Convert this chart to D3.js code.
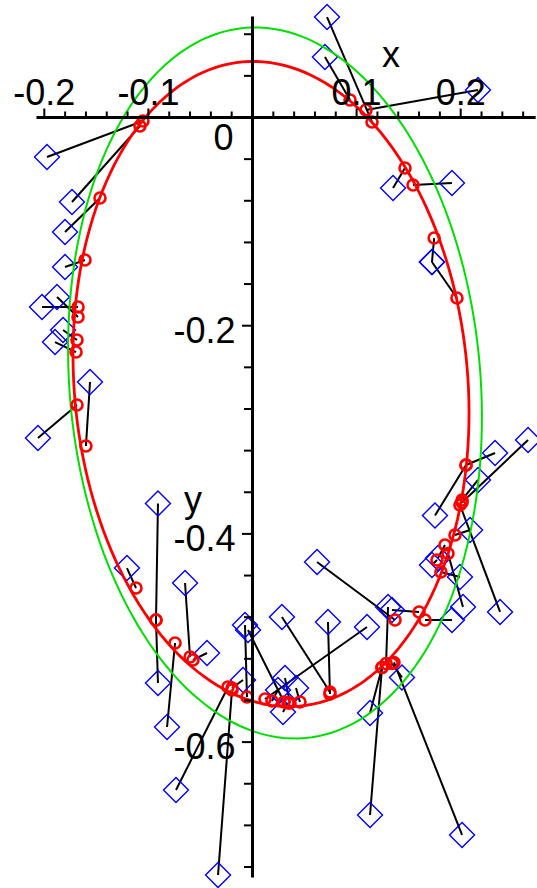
<!DOCTYPE html>
<html>
<head>
<meta charset="utf-8">
<script src="https://cdn.jsdelivr.net/npm/d3@7"></script>
<style>
  html, body { margin: 0; padding: 0; background: #ffffff; }
  svg { display: block; }
  text { font-family: "Liberation Sans", Arial, sans-serif; }
</style>
</head>
<body>
<svg id="chart" width="537" height="888"></svg>
<script>
// Measured points (blue diamonds)
const obsX = [0.0716, 0.0696, 0.2166, -0.1974, -0.1734, 0.1916, 0.1350, -0.1801, 0.1724, -0.1801,
  -0.2022, -0.1878, -0.1820, -0.1897, -0.1561, -0.2061, -0.1206, -0.0908, -0.0908, -0.0648,
  -0.0437, -0.0821, -0.0735, -0.0331, -0.0072, -0.0043, 0.0283, 0.0620, 0.0725, 0.0312,
  0.0418, 0.1100, 0.1340, 0.1302, 0.1436, 0.1129, 0.2013, 0.1916, 0.2022, 0.2378,
  0.1993, 0.1724, 0.1782, 0.2090, 0.1753, 0.2166, 0.2330, 0.2647, -0.0091, 0.0245,
  0.0293, 0.1129, 0.1724];
const obsY = [0.0965, 0.0581, 0.0264, -0.0379, -0.0812, -0.0629, -0.0677, -0.1100, -0.1388, -0.1436,
  -0.1820, -0.1724, -0.2041, -0.2157, -0.2541, -0.3079, -0.4328, -0.3708, -0.5432, -0.4472,
  -0.5144, -0.5855, -0.6460, -0.7277, -0.4875, -0.4923, -0.4798, -0.4270, -0.4846, -0.5384,
  -0.5480, -0.4894, -0.4731, -0.4702, -0.5379, -0.6700, -0.6892, -0.4827, -0.4702, -0.4750,
  -0.4414, -0.4299, -0.4232, -0.3963, -0.3823, -0.3482, -0.3223, -0.3098, -0.5403, -0.5500,
  -0.5711, -0.5720, -0.1388];

// Matching points on the fitted ellipse (red circles)
const footX = [0.1148, 0.0937, 0.1090, -0.1052, -0.1081, 0.1542, 0.1465, -0.1465, 0.1964, -0.1609,
  -0.1676, -0.1676, -0.1686, -0.1695, -0.1600, -0.1686, -0.1119, -0.0927, -0.0927, -0.0600,
  -0.0572, -0.0744, -0.0235, -0.0197, -0.0053, 0.0303, 0.0744, 0.1369, 0.0744, 0.0360,
  0.0456, 0.0120, 0.1600, 0.1283, 0.1340, 0.1244, 0.1359, 0.1657, 0.1878, 0.1993,
  0.1810, 0.1772, 0.1849, 0.1945, 0.2051, 0.2013, 0.2051, 0.2013, -0.0197, 0.0187,
  0.0341, 0.1244, 0.1745];
const footY = [-0.0043, 0.0168, 0.0072, -0.0034, -0.0082, -0.0648, -0.0485, -0.0773, -0.1734, -0.1369,
  -0.1820, -0.1916, -0.2137, -0.2253, -0.3156, -0.2762, -0.4520, -0.4827, -0.4827, -0.5183,
  -0.5211, -0.5048, -0.5470, -0.5500, -0.5567, -0.5615, -0.5519, -0.4827, -0.5538, -0.5625,
  -0.5615, -0.5586, -0.4750, -0.5245, -0.5245, -0.5283, -0.5235, -0.4827, -0.4188, -0.3722,
  -0.4366, -0.4251, -0.4107, -0.4011, -0.3338, -0.3674, -0.3338, -0.3698, -0.5480, -0.5605,
  -0.5625, -0.5283, -0.1158];

// Ellipses: reference (green) and fitted (red)
const ellipseCx   = [0.0216, 0.0178];
const ellipseCy   = [-0.2550, -0.2560];
const ellipseA    = [0.3423, 0.3106];   // semi-axis along the tilted vertical
const ellipseB    = [0.1974, 0.1890];
const ellipseTilt = [4.8, 5.0];         // degrees, clockwise from vertical
const ellipseColor = ["#00e000", "#ff0000"];

// Axes
const xTickValues = [-0.2, -0.18, -0.16, -0.14, -0.12, -0.1, -0.08, -0.06, -0.04, -0.02,
  0.02, 0.04, 0.06, 0.08, 0.1, 0.12, 0.14, 0.16, 0.18, 0.2, 0.22, 0.24, 0.26];
const xLabelValues = [-0.2, -0.1, 0.1, 0.2];
const xLabelText = ["-0.2", "-0.1", "0.1", "0.2"];
const yTickValues = [0.08, 0.04, -0.04, -0.08, -0.12, -0.16, -0.2, -0.24, -0.28, -0.32,
  -0.36, -0.4, -0.44, -0.48, -0.52, -0.56, -0.6, -0.64, -0.68, -0.72];
const yLabelValues = [-0.2, -0.4, -0.6];
const yLabelText = ["-0.2", "-0.4", "-0.6"];
const xAxisExtent = [-0.2075, 0.2720];
const yAxisExtent = [0.0970, -0.7300];

const svg = d3.select("#chart");
const x = d3.scaleLinear().domain([0, 0.2]).range([252.5, 460.7]);
const y = d3.scaleLinear().domain([0, -0.6]).range([117.5, 742.1]);

// Connectors from each point to its match on the fitted curve
svg.append("g")
  .selectAll("line")
  .data(d3.range(obsX.length))
  .join("line")
  .attr("x1", i => x(obsX[i])).attr("y1", i => y(obsY[i]))
  .attr("x2", i => x(footX[i])).attr("y2", i => y(footY[i]))
  .attr("stroke", "#000").attr("stroke-width", 2);

// Blue diamonds
const dh = 12.5;
svg.append("g")
  .selectAll("path")
  .data(d3.range(obsX.length))
  .join("path")
  .attr("d", i => {
    const cx = x(obsX[i]), cy = y(obsY[i]);
    return `M${cx},${cy - dh}L${cx + dh},${cy}L${cx},${cy + dh}L${cx - dh},${cy}Z`;
  })
  .attr("fill", "none").attr("stroke", "#0000ff").attr("stroke-width", 1.4);

// Ellipse curves
const angles = d3.range(0, 361, 2).map(d => d * Math.PI / 180);
const line = d3.line().x(d => x(d[0])).y(d => y(d[1]));
ellipseCx.forEach((cx, k) => {
  const th = ellipseTilt[k] * Math.PI / 180;
  const ux = Math.sin(th), uy = -Math.cos(th);   // major direction (downwards, tilted right)
  const vx = Math.cos(th), vy = Math.sin(th);
  const pts = angles.map(t => [
    cx + ellipseA[k] * Math.cos(t) * ux + ellipseB[k] * Math.sin(t) * vx,
    ellipseCy[k] + ellipseA[k] * Math.cos(t) * uy + ellipseB[k] * Math.sin(t) * vy
  ]);
  svg.append("path")
    .attr("d", line(pts))
    .attr("fill", "none")
    .attr("stroke", ellipseColor[k])
    .attr("stroke-width", k === 1 ? 2.8 : 2);
});

// Red circles on the fitted ellipse
svg.append("g")
  .selectAll("circle")
  .data(d3.range(footX.length))
  .join("circle")
  .attr("cx", i => x(footX[i])).attr("cy", i => y(footY[i]))
  .attr("r", 5.5)
  .attr("fill", "none").attr("stroke", "#ff0000").attr("stroke-width", 2.6);

// Axes through the origin
const axes = svg.append("g");
axes.append("line")
  .attr("x1", x(xAxisExtent[0])).attr("x2", x(xAxisExtent[1]))
  .attr("y1", y(0)).attr("y2", y(0))
  .attr("stroke", "#000").attr("stroke-width", 3);
axes.append("line")
  .attr("x1", x(0)).attr("x2", x(0))
  .attr("y1", y(yAxisExtent[0])).attr("y2", y(yAxisExtent[1]))
  .attr("stroke", "#000").attr("stroke-width", 3);

axes.selectAll(".xt")
  .data(xTickValues)
  .join("line")
  .attr("x1", d => x(d)).attr("x2", d => x(d))
  .attr("y1", y(0)).attr("y2", d => y(0) - (xLabelValues.includes(d) ? 9 : 6))
  .attr("stroke", "#000").attr("stroke-width", 2);

axes.selectAll(".yt")
  .data(yTickValues)
  .join("line")
  .attr("y1", d => y(d)).attr("y2", d => y(d))
  .attr("x1", x(0)).attr("x2", d => x(0) - (yLabelValues.includes(d) ? 10.5 : 8.5))
  .attr("stroke", "#000").attr("stroke-width", 2);

const fs = 36;
axes.selectAll(".xl")
  .data(xLabelValues)
  .join("text")
  .attr("x", d => x(d))
  .attr("y", y(0) - 13)
  .attr("text-anchor", "middle")
  .attr("font-size", fs)
  .text((d, i) => xLabelText[i]);

axes.selectAll(".yl")
  .data(yLabelValues)
  .join("text")
  .attr("x", x(0) - 17)
  .attr("y", d => y(d) + 17)
  .attr("text-anchor", "end")
  .attr("font-size", fs)
  .text((d, i) => yLabelText[i]);

axes.append("text")
  .attr("x", x(0) - 19).attr("y", y(0) + 32)
  .attr("text-anchor", "end").attr("font-size", fs).text("0");

axes.append("text")
  .attr("x", 382).attr("y", 67).attr("font-size", fs).text("x");
axes.append("text")
  .attr("x", 184).attr("y", 512).attr("font-size", fs).text("y");
</script>
</body>
</html>
